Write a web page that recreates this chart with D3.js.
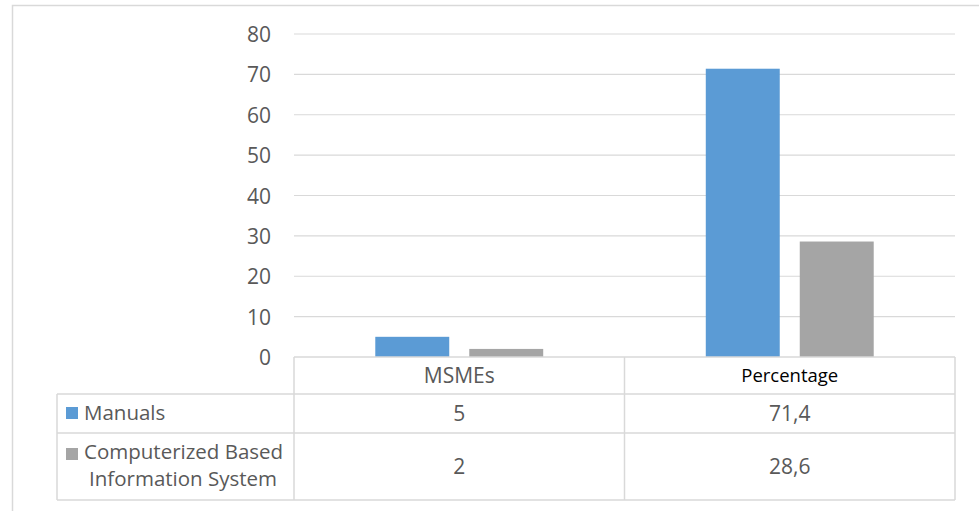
<!DOCTYPE html>
<html>
<head>
<meta charset="utf-8">
<script src="https://cdn.jsdelivr.net/npm/d3@7"></script>
<style>
  html, body { margin: 0; padding: 0; background: #fff; }
  svg { display: block; font-family: "Open Sans", sans-serif; }
</style>
</head>
<body>
<div id="chart"></div>
<script>
var categories = ['MSMEs', 'Percentage']
var seriesNames = ['Manuals', 'Computerized Based Information System']
var seriesLabels = [['Manuals'], ['Computerized Based', 'Information System']]
var manuals = [5, 71.4]
var computerized = [2, 28.6]
var manualsText = ['5', '71,4']
var computerizedText = ['2', '28,6']
var yTicks = [0, 10, 20, 30, 40, 50, 60, 70, 80]

var colors = ['#5b9bd5', '#a5a5a5']
var gridColor = '#d9d9d9'
var textColor = '#595959'

var width = 979
var height = 511
var plot = { left: 294, right: 955, top: 34, bottom: 357 }
var rows = [357, 394, 433, 500]
var legendLeft = 57

var svg = d3.select('#chart').append('svg')
  .attr('width', width)
  .attr('height', height)

// outer chart border
svg.append('rect')
  .attr('x', 12.5).attr('y', 5.5)
  .attr('width', 1000).attr('height', 600)
  .attr('fill', 'none')
  .attr('stroke', gridColor)
  .attr('stroke-width', 1.5)

var y = d3.scaleLinear().domain([0, 80]).range([plot.bottom, plot.top])
var x0 = d3.scaleBand().domain(categories).range([plot.left, plot.right])
var x1 = d3.scaleBand().domain([0, 1])
  .range([0, x0.bandwidth()])
  .paddingInner(0.213)
  .paddingOuter(0.865)

// gridlines
svg.append('g').selectAll('line')
  .data(yTicks.filter(function (d) { return d > 0 }))
  .enter().append('line')
  .attr('x1', plot.left).attr('x2', plot.right)
  .attr('y1', function (d) { return y(d) })
  .attr('y2', function (d) { return y(d) })
  .attr('stroke', gridColor)
  .attr('stroke-width', 1.2)

// y tick labels
var yAxis = d3.axisLeft(y).tickValues(yTicks).tickSize(0).tickPadding(0)
var yg = svg.append('g')
  .attr('transform', 'translate(271,0)')
  .call(yAxis)
yg.select('.domain').remove()
yg.selectAll('text')
  .attr('fill', textColor)
  .style('font-size', '21px')
  .style('font-family', '"Open Sans", sans-serif')
  .attr('dy', '0.36em')

// bars
var series = [manuals, computerized]
var barG = svg.append('g')
series.forEach(function (vals, si) {
  barG.selectAll('rect.s' + si)
    .data(vals)
    .enter().append('rect')
    .attr('class', 's' + si)
    .attr('x', function (d, i) { return x0(categories[i]) + x1(si) })
    .attr('width', x1.bandwidth())
    .attr('y', function (d) { return y(d) })
    .attr('height', function (d) { return y(0) - y(d) })
    .attr('fill', colors[si])
})

// data table
var tg = svg.append('g')
var line = function (x1v, y1v, x2v, y2v) {
  tg.append('line')
    .attr('x1', x1v).attr('y1', y1v).attr('x2', x2v).attr('y2', y2v)
    .attr('stroke', gridColor).attr('stroke-width', 1.5)
}
line(plot.left, rows[0], plot.right, rows[0])
line(legendLeft, rows[1], plot.right, rows[1])
line(legendLeft, rows[2], plot.right, rows[2])
line(legendLeft, rows[3], plot.right, rows[3])
line(legendLeft, rows[1], legendLeft, rows[3])
line(plot.left, rows[0], plot.left, rows[3])
categories.forEach(function (c) {
  line(x0(c) + x0.bandwidth(), rows[0], x0(c) + x0.bandwidth(), rows[3])
})

// category header
tg.selectAll('text.cat')
  .data(categories)
  .enter().append('text')
  .attr('class', 'cat')
  .attr('x', function (d) { return x0(d) + x0.bandwidth() / 2 })
  .attr('y', (rows[0] + rows[1]) / 2)
  .attr('dy', '0.36em')
  .attr('text-anchor', 'middle')
  .attr('fill', function (d, i) { return i === 1 ? '#000' : textColor })
  .style('font-size', function (d, i) { return i === 1 ? '18.5px' : '21px' })
  .text(function (d) { return d })

// values
var valueTexts = [manualsText, computerizedText]
valueTexts.forEach(function (vals, si) {
  tg.selectAll('text.v' + si)
    .data(vals)
    .enter().append('text')
    .attr('class', 'v' + si)
    .attr('x', function (d, i) { return x0(categories[i]) + x0.bandwidth() / 2 })
    .attr('y', (rows[si + 1] + rows[si + 2]) / 2)
    .attr('dy', '0.36em')
    .attr('text-anchor', 'middle')
    .attr('fill', textColor)
    .style('font-size', '21px')
    .text(function (d) { return d })
})

// legend keys in row headers
seriesNames.forEach(function (name, si) {
  var top = rows[si + 1]
  tg.append('rect')
    .attr('x', 66).attr('y', top + 13 + si * 2)
    .attr('width', 12).attr('height', 12)
    .attr('fill', colors[si])
  var t = tg.append('text')
    .attr('fill', textColor)
    .style('font-size', '20.5px')
  seriesLabels[si].forEach(function (s, k) {
    t.append('tspan')
      .attr('x', k === 0 ? 84 : 89)
      .attr('y', top + 26 + k * 27)
      .text(s)
  })
})
</script>
</body>
</html>
